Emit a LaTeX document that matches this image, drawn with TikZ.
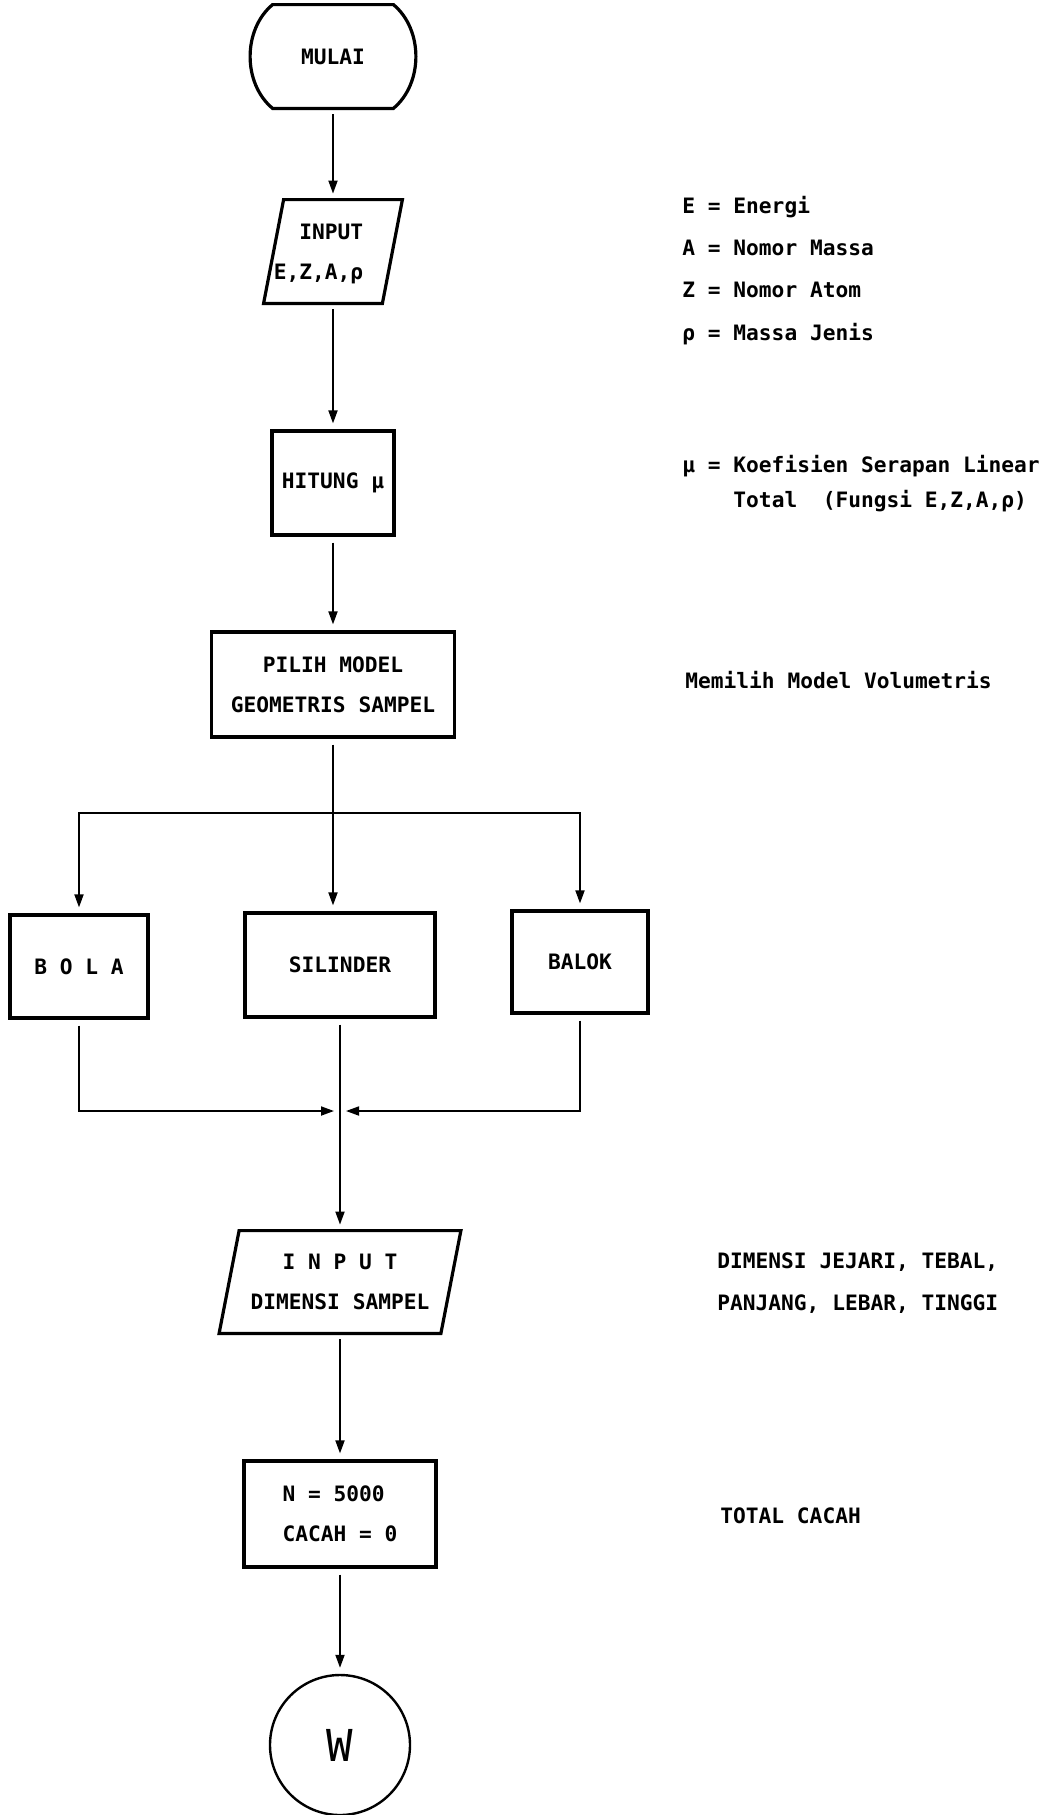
\documentclass[tikz,border=0pt]{standalone}
\usepackage{fontspec}
\setmonofont{DejaVu Sans Mono}
\usetikzlibrary{arrows.meta}

\tikzset{
    kotak/.style={draw, line width=1.6pt, inner sep=0pt, align=center},
    io/.style={inner sep=0pt, align=center},
    panah/.style={line width=0.9pt, -{Triangle[length=6.5pt,width=4.5pt]}, shorten <=3pt, shorten >=3pt},
    garis/.style={line width=0.9pt},
    ket/.style={anchor=base west, inner sep=0pt},
}

% parallelogram round an io node: #1 name, #2 slant
\newcommand{\ioframe}[2]{%
    \draw[line width=1.6pt] ([xshift=#2]#1.north west) -- (#1.north east)
        -- ([xshift=-#2]#1.south east) -- (#1.south west) -- cycle;}

\begin{document}
\begin{tikzpicture}[x=0.5pt, y=-0.5pt,
        every node/.style={font=\ttfamily\bfseries\fontsize{10.6}{20}\selectfont}]
                \useasboundingbox (0,0) rectangle (1055,1815);
                % flow
                \node[inner sep=0pt, minimum width=60pt, minimum height=51.5pt] (mulai) at (333,56.5) {MULAI};
                \draw[line width=1.6pt] (mulai.north west) -- (mulai.north east)
                    .. controls ([shift={(30,25)}]mulai.north east) and ([shift={(30,-25)}]mulai.south east) .. (mulai.south east)
                    -- (mulai.south west)
                    .. controls ([shift={(-30,-25)}]mulai.south west) and ([shift={(-30,25)}]mulai.north west) .. (mulai.north west) -- cycle;
                \node[io, minimum width=69pt, minimum height=51.5pt] (input) at (333,251.5)
                    {\begin{tabular}{@{}r@{}}INPUT\\E,Z,A,ρ\end{tabular}\hspace{14.5pt}};
                \ioframe{input}{10pt}
                \node[kotak, minimum width=61pt, minimum height=52pt] (hitung) at (333,483) {HITUNG μ};
                \node[kotak, minimum width=121.5pt, minimum height=52.5pt] (pilih) at (333,684.5) {PILIH MODEL\\GEOMETRIS SAMPEL};
                \coordinate (cab) at (333,813);
                \node[kotak, minimum width=69pt, minimum height=51.5pt] (bola) at (79,966.5) {B O L A};
                \node[kotak, minimum width=95pt, minimum height=52pt] (silinder) at (340,965) {SILINDER};
                \node[kotak, minimum width=68pt, minimum height=51pt] (balok) at (580,962) {BALOK};
                \coordinate (gabung) at (340,1111);
                \node[io, minimum width=120.5pt, minimum height=51pt] (dimensi) at (340,1282) {I N P U T\\DIMENSI SAMPEL};
                \ioframe{dimensi}{10pt}
                \node[kotak, align=left, minimum width=96pt, minimum height=53pt] (nilai) at (340,1514) {N = 5000\\CACAH = 0};
                \node[draw, circle, line width=1.2pt, minimum size=70pt, inner sep=0pt,
                    font=\ttfamily\fontsize{22}{22}\selectfont] (w) at (340,1745) {W};
                % connectors
                \draw[panah] (mulai) -- (input);
                \draw[panah] (input) -- (hitung);
                \draw[panah] (hitung) -- (pilih);
                \draw[garis, shorten <=3pt] (pilih) -- (cab);
                \draw[panah, shorten <=0pt] (cab) -| (bola);
                \draw[panah, shorten <=0pt] (cab) -- (cab |- silinder.north);
                \draw[panah, shorten <=0pt] (cab) -| (balok);
                \draw[panah] (bola) |- (gabung);
                \draw[panah] (balok) |- (gabung);
                \draw[panah] (silinder) -- (dimensi);
                \draw[panah] (dimensi) -- (nilai);
                \draw[panah] (nilai) -- (w);
                % keterangan
                \node[ket] (ketE) at (682,213) {E = Energi};
                \node[ket] (ketA) at (682,255) {A = Nomor Massa};
                \node[ket] (ketZ) at (682,297) {Z = Nomor Atom};
                \node[ket] (ketRho) at (682,340) {ρ = Massa Jenis};
                \node[ket] (ketMu) at (682,472) {μ = Koefisien Serapan Linear};
                \node[ket] (ketTotal) at (682,507) {\phantom{μ = }Total~ (Fungsi E,Z,A,ρ)};
                \node[ket] (ketModel) at (685,688) {Memilih Model Volumetris};
                \node[ket] (ketDimA) at (717,1268) {DIMENSI JEJARI, TEBAL,};
                \node[ket] (ketDimB) at (717,1310) {PANJANG, LEBAR, TINGGI};
                \node[ket] (ketCacah) at (720,1523) {TOTAL CACAH};
            \end{tikzpicture}
\end{document}
